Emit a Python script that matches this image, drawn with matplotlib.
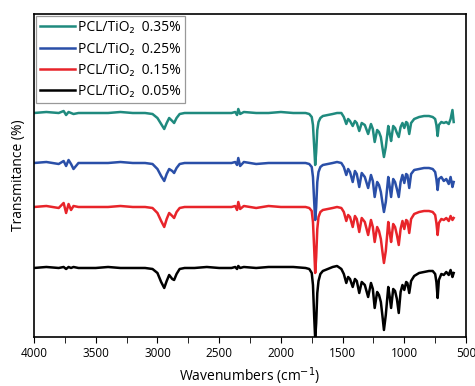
import matplotlib
matplotlib.use("Agg")
import matplotlib.pyplot as plt
from matplotlib.ticker import MultipleLocator

plt.rcParams['font.family'] = ['Open Sans', 'DejaVu Sans']

# wavenumbers (cm-1), shared by all four spectra
wavenumber = [
    4000, 3900, 3800, 3760, 3740, 3720, 3700, 3680, 3640, 3600,
    3500, 3400, 3300, 3200, 3100, 3040, 3000, 2970, 2945, 2925,
    2905, 2880, 2865, 2845, 2820, 2780, 2700, 2600, 2500, 2400,
    2370, 2355, 2345, 2330, 2300, 2200, 2100, 2000, 1900, 1800,
    1770, 1750, 1740, 1730, 1722, 1714, 1705, 1695, 1680, 1660,
    1620, 1580, 1545, 1510, 1490, 1470, 1455, 1440, 1418, 1400,
    1385, 1365, 1345, 1320, 1293, 1270, 1255, 1240, 1220, 1205,
    1190, 1178, 1165, 1150, 1130, 1118, 1107, 1090, 1075, 1060,
    1045, 1030, 1015, 1000, 985, 975, 960, 945, 920, 880,
    840, 800, 770, 750, 740, 730, 720, 700, 680, 660,
    640, 625, 610, 600,
]

# stacked transmittance (arbitrary offset units)
t_035 = [
    224, 225, 224, 226, 222, 225, 224, 223, 224, 224,
    224, 224, 225, 224, 224, 223, 219, 213, 208, 214,
    219, 216, 214, 219, 223, 224, 224, 224, 224, 224,
    225, 222, 228, 223, 225, 224, 224, 225, 224, 224,
    223, 220, 212, 190, 172, 185, 207, 215, 219, 221,
    222, 223, 224, 224, 220, 213, 218, 216, 211, 216,
    214, 206, 214, 212, 203, 213, 208, 195, 207, 205,
    200, 190, 180, 190, 211, 203, 196, 211, 209, 204,
    200, 210, 214, 209, 215, 214, 203, 214, 218, 220,
    221, 221, 220, 218, 212, 201, 212, 215, 214, 215,
    213, 218, 227, 215,
]
t_025 = [
    174, 175, 173, 176, 171, 177, 173, 168, 174, 174,
    174, 174, 175, 174, 174, 173, 168, 161, 156, 163,
    168, 166, 164, 169, 173, 174, 174, 174, 174, 174,
    175, 172, 179, 171, 175, 173, 174, 174, 174, 174,
    173, 170, 160, 135, 117, 130, 155, 165, 170, 172,
    173, 174, 175, 174, 170, 162, 168, 165, 155, 166,
    163, 150, 164, 160, 149, 162, 156, 140, 155, 152,
    145, 135, 125, 135, 160, 150, 140, 158, 155, 148,
    140, 155, 162, 154, 163, 162, 149, 163, 167, 168,
    169, 169, 168, 165, 158, 147, 158, 160, 156, 158,
    153, 160, 150, 155,
]
t_015 = [
    130, 131, 129, 134, 124, 133, 127, 131, 130, 130,
    130, 130, 131, 130, 130, 129, 124, 116, 110, 118,
    124, 121, 119, 125, 129, 130, 130, 130, 130, 130,
    131, 127, 135, 128, 131, 129, 131, 130, 130, 130,
    129, 126, 115, 88, 64, 80, 108, 120, 125, 127,
    128, 129, 130, 129, 125, 116, 122, 120, 110, 121,
    118, 105, 119, 115, 102, 117, 110, 95, 110, 106,
    98, 86, 74, 86, 115, 104, 95, 113, 110, 102,
    92, 108, 116, 108, 117, 116, 104, 118, 123, 125,
    126, 126, 125, 122, 114, 102, 114, 118, 117, 119,
    116, 121, 117, 119,
]
t_005 = [
    69, 70, 69, 70, 68, 70, 69, 70, 69, 69,
    69, 70, 69, 69, 69, 68, 64, 55, 49, 56,
    62, 58, 57, 63, 68, 69, 69, 70, 69, 69,
    70, 68, 71, 69, 70, 69, 70, 70, 70, 69,
    68, 64, 52, 20, -2, 14, 44, 56, 63, 66,
    68, 70, 71, 68, 63, 54, 60, 58, 50, 58,
    56, 44, 55, 52, 40, 54, 48, 29, 45, 42,
    35, 22, 7, 22, 50, 40, 29, 48, 46, 38,
    24, 45, 52, 47, 55, 54, 44, 56, 61, 64,
    65, 66, 66, 63, 55, 39, 57, 63, 62, 65,
    62, 67, 60, 64,
]

labels = ['PCL/TiO\u2082  0.35%', 'PCL/TiO\u2082  0.25%',
          'PCL/TiO\u2082  0.15%', 'PCL/TiO\u2082  0.05%']
colors = ['#1f8a7e', '#2a4fa8', '#e8242a', '#000000']
series = [t_035, t_025, t_015, t_005]

fig = plt.figure(figsize=(4.75, 3.86), dpi=100)
ax = fig.add_axes([0.0716, 0.127, 0.9095, 0.8367])

for y, c, lab in zip(series, colors, labels):
    ax.plot(wavenumber, y, color=c, lw=1.8, label=lab)

ax.set_xlim(4000, 500)
ax.set_ylim(0, 323)
ax.xaxis.set_major_locator(MultipleLocator(500))
ax.xaxis.set_minor_locator(MultipleLocator(250))
ax.tick_params(axis='x', which='both', direction='out', length=4,
               labelsize=8.5, top=False, pad=3)
ax.set_yticks([])
for s in ax.spines.values():
    s.set_linewidth(1.2)

ax.set_xlabel('Wavenumbers (cm$^{-1}$)', fontsize=10, labelpad=4)
ax.set_ylabel('Transmitance (%)', fontsize=10, labelpad=6)

leg = ax.legend(loc='upper left', fontsize=10, fancybox=False,
                edgecolor='#999999', framealpha=1, handlelength=2.5,
                borderaxespad=0.15, labelspacing=0.45, handletextpad=0.25,
                borderpad=0.3)
leg.get_frame().set_linewidth(0.9)

fig.savefig('out.png', dpi=100)
